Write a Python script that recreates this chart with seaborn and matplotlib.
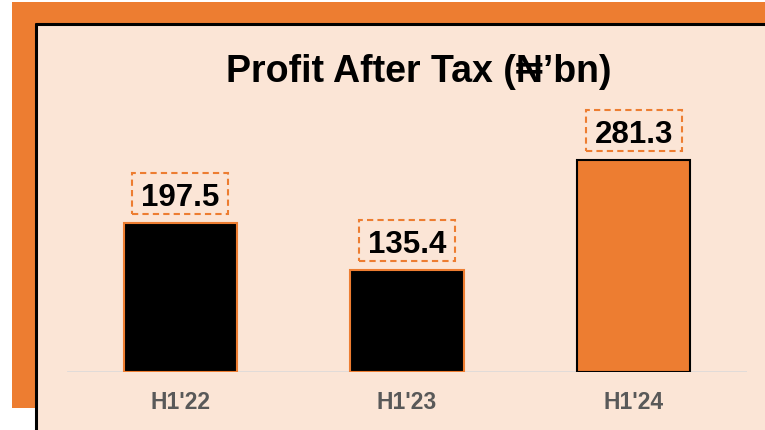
import matplotlib
matplotlib.use("Agg")
import matplotlib.pyplot as plt
import seaborn as sns
import pandas as pd
from matplotlib.patches import Rectangle
from matplotlib.lines import Line2D
from matplotlib.path import Path

categories = ["H1'22", "H1'23", "H1'24"]
values = [197.5, 135.4, 281.3]
title = "Profit After Tax (₦’bn)"

ORANGE = "#ED7D31"
PEACH = "#FBE5D6"
bar_colors = ["#000000", "#000000", ORANGE]
edge_colors = [ORANGE, ORANGE, "#000000"]

sns.set_theme(style="white")
plt.rcParams["font.family"] = ["Liberation Sans", "DejaVu Sans"]

W, H = 765, 431
fig = plt.figure(figsize=(W / 100, H / 100), dpi=100)
fig.patch.set_facecolor("white")

def px_rect(x0, y0, x1, y1, **kw):
    return Rectangle((x0 / W, 1 - y1 / H), (x1 - x0) / W, (y1 - y0) / H,
                     transform=fig.transFigure, **kw)

# orange frame and peach panel
fig.patches.append(px_rect(12, 3, 765, 409, facecolor=ORANGE, edgecolor="none", zorder=0))
fig.patches.append(px_rect(35, 25, 765, 431, facecolor=PEACH, edgecolor="none", zorder=1))
fig.lines.append(Line2D([35.5 / W, 35.5 / W], [0, 1 - 25 / H], transform=fig.transFigure,
                        color="black", lw=2.2, zorder=2))
fig.lines.append(Line2D([35.5 / W, 1], [1 - 25 / H, 1 - 25 / H], transform=fig.transFigure,
                        color="black", lw=2.2, zorder=2))

# axes
ax = fig.add_axes([67 / W, 1 - 373 / H, (747 - 67) / W, (373 - 60) / H])
ax.set_facecolor("none")
ax.set_zorder(3)

df = pd.DataFrame({"cat": categories, "val": values})
sns.barplot(data=df, x="cat", y="val", hue="cat", palette=bar_colors, legend=False,
            width=0.5, ax=ax, saturation=1)
for p, ec in zip(ax.patches, edge_colors):
    p.set_edgecolor(ec)
    p.set_linewidth(1.5)

ax.set_xlim(-0.5, 2.5)
ax.set_ylim(0, 313 / 0.755)
ax.axhline(0, color="#D9D9D9", lw=1.8, zorder=0)
for s in ax.spines.values():
    s.set_visible(False)
ax.set_yticks([])
ax.set_xlabel("")
ax.set_ylabel("")
ax.tick_params(axis="x", length=0, pad=13)
ax.set_xticks(range(len(categories)))
ax.set_xticklabels(categories, fontsize=16.5, fontweight="bold", color="#595959")


def label_box(x0, y0, width, height, mutation_size):
    m = mutation_size
    base = y0 + 0.212 * m
    bx0 = x0 - 0.28 * m
    bx1 = x0 + width + 0.28 * m
    by0 = base - 0.27 * m
    by1 = base + 0.716 * m + 0.32 * m
    return Path([(bx0, by0), (bx1, by0), (bx1, by1), (bx0, by1), (bx0, by0)],
                closed=True)


for i, v in enumerate(values):
    ax.annotate(f"{v:.1f}", xy=(i, v), xytext=(0, 12.6), textcoords="offset points",
                ha="center", va="baseline", fontsize=22.5, fontweight="bold", color="black",
                bbox=dict(boxstyle=label_box, facecolor="none", edgecolor=ORANGE,
                          linewidth=1.5, linestyle=(0, (3, 2))))

fig.text(419 / W, 1 - 82 / H, title, ha="center", va="baseline", fontsize=27,
         fontweight="bold", color="black", zorder=5)

fig.savefig("out.png", dpi=100, facecolor=fig.get_facecolor())
